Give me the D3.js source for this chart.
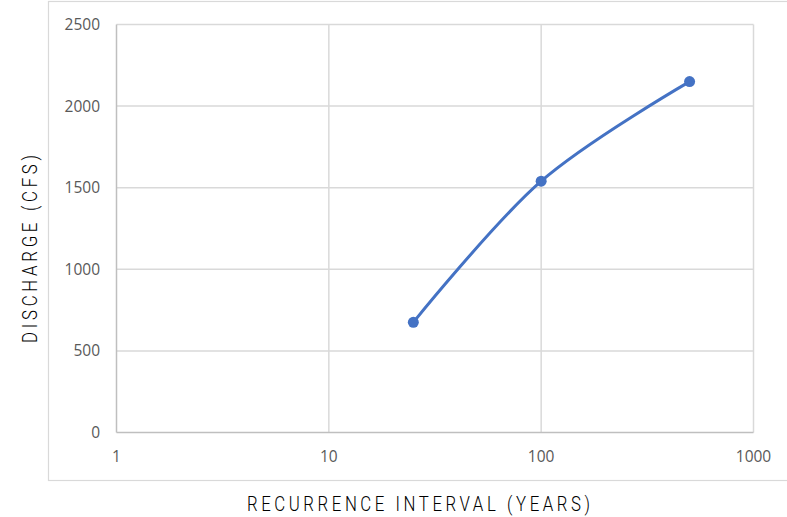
<!DOCTYPE html>
<html>
<head>
<meta charset="utf-8">
<script src="https://cdn.jsdelivr.net/npm/d3@7"></script>
<style>
  html, body { margin: 0; padding: 0; background: #fff; }
  svg { display: block; }
</style>
</head>
<body>
<svg id="chart" width="787" height="517"></svg>
<script>
// Peak discharge by recurrence interval
const intervals = [25, 100, 500];          // years
const discharge = [675, 1540, 2150];       // cfs
const xTicks = [1, 10, 100, 1000];
const yTicks = [0, 500, 1000, 1500, 2000, 2500];

const svg = d3.select("#chart");
const W = 787, H = 517;
const m = { left: 116.5, right: 753.5, top: 24.5, bottom: 432.5 };

// chart area frame
svg.append("rect")
  .attr("x", 48.5).attr("y", 1.5)
  .attr("width", 760).attr("height", 479)
  .attr("fill", "#fff").attr("stroke", "#d9d9d9").attr("stroke-width", 1.2);

const x = d3.scaleLog().domain([1, 1000]).range([m.left, m.right]);
const y = d3.scaleLinear().domain([0, 2500]).range([m.bottom, m.top]);

// gridlines
const grid = svg.append("g");
grid.selectAll("line.h").data(yTicks.filter(d => d > 0)).join("line")
  .attr("x1", m.left).attr("x2", m.right)
  .attr("y1", d => y(d)).attr("y2", d => y(d))
  .attr("stroke", "#d9d9d9").attr("stroke-width", 1.5);
grid.selectAll("line.v").data(xTicks.filter(d => d > 1)).join("line")
  .attr("x1", d => x(d)).attr("x2", d => x(d))
  .attr("y1", m.top).attr("y2", m.bottom)
  .attr("stroke", "#d9d9d9").attr("stroke-width", 1.5);

// axis lines
svg.append("line").attr("x1", m.left).attr("x2", m.left)
  .attr("y1", m.top).attr("y2", m.bottom)
  .attr("stroke", "#bfbfbf").attr("stroke-width", 1.5);
svg.append("line").attr("x1", m.left).attr("x2", m.right)
  .attr("y1", m.bottom).attr("y2", m.bottom)
  .attr("stroke", "#bfbfbf").attr("stroke-width", 1.5);

// tick labels
const tickFont = "'Open Sans', 'Liberation Sans', sans-serif";
svg.append("g").selectAll("text").data(yTicks).join("text")
  .attr("x", 100).attr("y", d => y(d))
  .attr("dy", "0.35em")
  .attr("text-anchor", "end")
  .attr("font-family", tickFont).attr("font-size", 15.5)
  .attr("fill", "#595959")
  .text(d => d);

svg.append("clipPath").attr("id", "labelClip")
  .append("rect").attr("x", 0).attr("y", 0).attr("width", 771.5).attr("height", H);

svg.append("g").attr("clip-path", "url(#labelClip)")
  .selectAll("text").data(xTicks).join("text")
  .attr("x", d => x(d)).attr("y", 457)
  .attr("dy", "0.35em")
  .attr("text-anchor", "middle")
  .attr("font-family", tickFont).attr("font-size", 15.5)
  .attr("fill", "#595959")
  .text(d => d);

// series
const pts = intervals.map((v, i) => [v, discharge[i]]);
const line = d3.line()
  .x(d => x(d[0])).y(d => y(d[1]))
  .curve(d3.curveCardinal.tension(0));
svg.append("path").datum(pts)
  .attr("d", line)
  .attr("fill", "none")
  .attr("stroke", "#4472c4").attr("stroke-width", 3)
  .attr("stroke-linecap", "round");
svg.append("g").selectAll("circle").data(pts).join("circle")
  .attr("cx", d => x(d[0])).attr("cy", d => y(d[1]))
  .attr("r", 5.5)
  .attr("fill", "#4472c4");

// axis titles: thin, horizontally condensed lettering
const titleFont = "Roboto, 'DejaVu Sans', sans-serif";
const sx = 0.8;
svg.append("text")
  .attr("transform", `translate(418.5,510.5) scale(${sx},1)`)
  .attr("text-anchor", "middle")
  .attr("font-family", titleFont).attr("font-size", 21).attr("font-weight", 300)
  .attr("fill", "#000")
  .attr("textLength", 343 / sx).attr("lengthAdjust", "spacing")
  .text("RECURRENCE INTERVAL (YEARS)");

svg.append("text")
  .attr("transform", `translate(36.5,249) rotate(-90) scale(${sx},1)`)
  .attr("text-anchor", "middle")
  .attr("font-family", titleFont).attr("font-size", 21).attr("font-weight", 300)
  .attr("fill", "#000")
  .attr("textLength", 188 / sx).attr("lengthAdjust", "spacing")
  .text("DISCHARGE (CFS)");
</script>
</body>
</html>
